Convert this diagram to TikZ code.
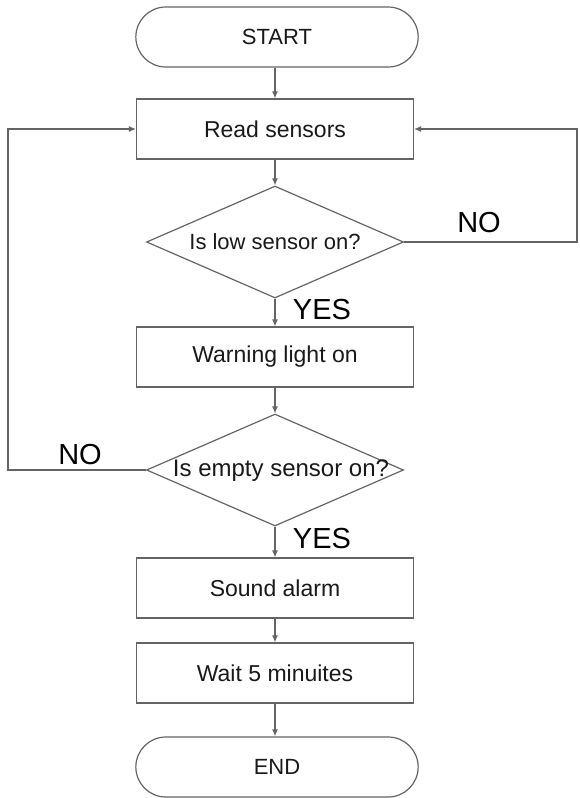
\documentclass[tikz,border=0pt]{standalone}
\usepackage{fontspec}
\setmainfont{Liberation Sans}
\usepackage{xcolor}
\definecolor{Col1}{RGB}{100,100,100}
\definecolor{Col2}{RGB}{25,25,25}
\usetikzlibrary{shapes}
\usetikzlibrary{arrows.meta}
\tikzstyle{Terminal}=[rounded rectangle,draw=Col1,line width=1.2pt,
minimum width=289pt,minimum height=60pt,text=Col2,
font=\fontsize{22}{26}\selectfont]
\tikzstyle{Process}=[rectangle,draw=Col1,line width=1.2pt,
minimum width=277pt,minimum height=60pt,text=Col2,
font=\fontsize{23}{27}\selectfont]
\tikzstyle{Decision}=[diamond,draw=Col1,line width=1.2pt,inner sep=0pt,
minimum width=257pt,minimum height=112pt,aspect=2.3]
\tikzstyle{DecText}=[text=Col2,font=\fontsize{22}{26}\selectfont]
\tikzstyle{Answer}=[text=black,font=\fontsize{29}{34}\selectfont]
\tikzstyle{Edge}=[draw=Col1,line width=1.2pt,
-{Latex[length=7pt,width=6pt]}]

\begin{document}
\begin{tikzpicture}[x=1pt,y=-1pt]
            \useasboundingbox(0,0)rectangle(579,798);
            \node[Terminal](start)at(277,37){START};
            \node[Process](read)at(275,129){Read sensors};
            \node[Decision](d1)at(275,242){};
            \node[DecText](t1)at(d1){Is low sensor on?};
            \node[Process](warn)at(275,357){Warning light on};
            \node[Decision](d2)at(275,470){};
            \node[DecText,font=\fontsize{24}{28}\selectfont](t2)
                at(281,471){Is empty sensor on?};
            \node[Process](alarm)at(275,588){Sound alarm};
            \node[Process](wait)at(275,673){Wait 5 minuites};
            \node[Terminal](end)at(277,767){END};
            \node[Answer](yes1)at(322,310){YES};
            \node[Answer](no1)at(479,223){NO};
            \node[Answer](yes2)at(322,539){YES};
            \node[Answer](no2)at(80,455){NO};
            \coordinate(rc)at(577,129);
            \coordinate(lc)at(8,129);
            \draw[Edge](start.south-|read)--(read);
            \draw[Edge](read)--(d1);
            \draw[Edge](d1)--(warn);
            \draw[Edge](warn)--(d2);
            \draw[Edge](d2)--(alarm);
            \draw[Edge](alarm)--(wait);
            \draw[Edge](wait)--(end.north-|wait);
            \draw[Edge](d1.east)-|(rc)--(read.east);
            \draw[Edge](d2.west)-|(lc)--(read.west);
        \end{tikzpicture}
\end{document}
